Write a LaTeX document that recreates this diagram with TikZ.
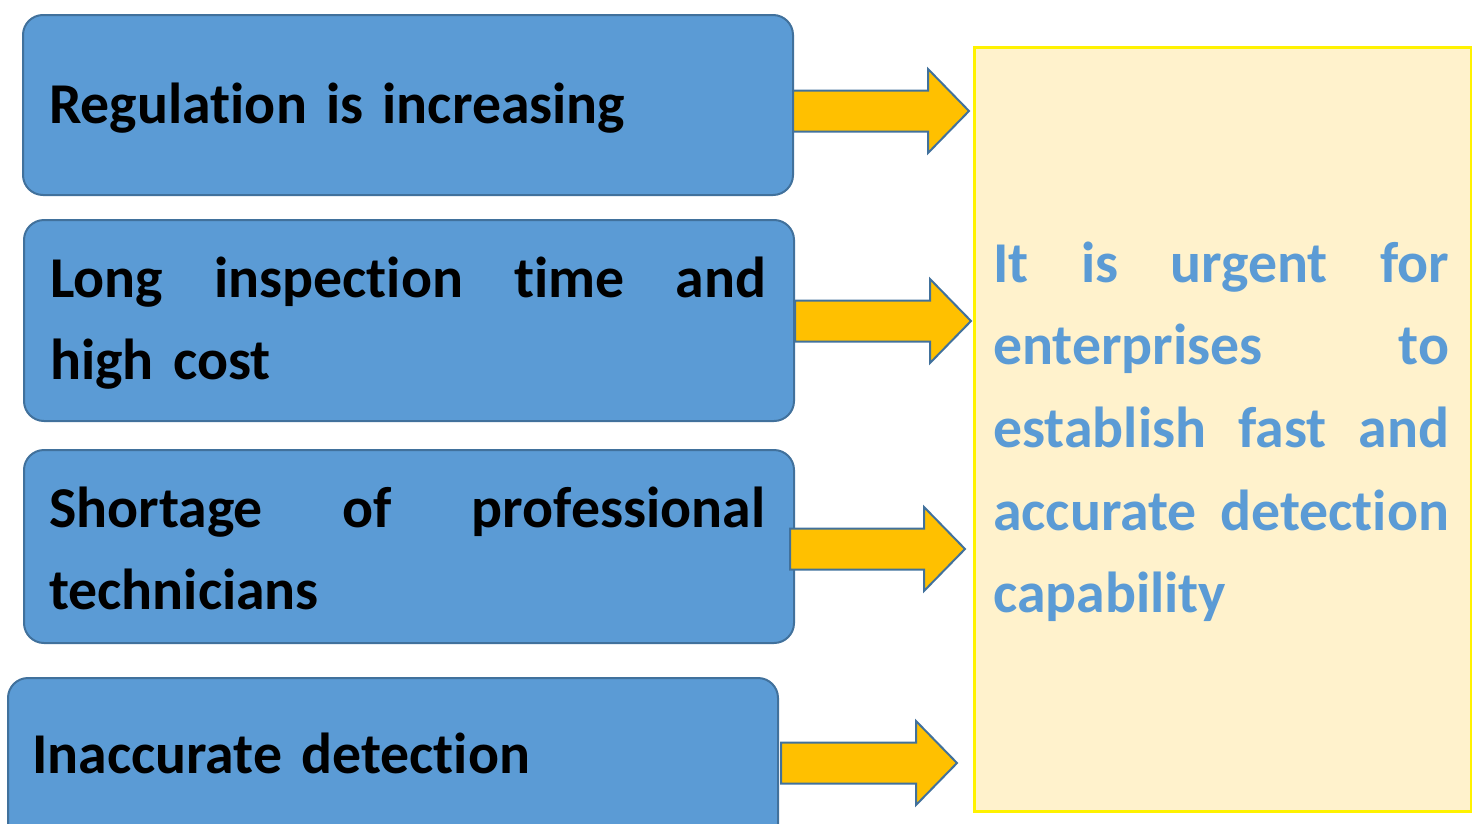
\documentclass[tikz,border=0pt]{standalone}
\usepackage{fontspec}
\setmainfont{Carlito}[Ligatures=NoCommon]
\definecolor{boxblue}{HTML}{5B9BD5}
\definecolor{boxedge}{HTML}{41719C}
\definecolor{arrowgold}{HTML}{FFC000}
\definecolor{notefill}{HTML}{FFF2CC}

\begin{document}
\begin{tikzpicture}[
    x=1bp, y=-1bp,
    cause box/.style={draw=boxedge, line width=2bp, fill=boxblue,
    rounded corners=20bp, inner sep=0pt, anchor=north west},
    cause text/.style={anchor=base west, inner sep=0pt, text width=717bp,
    align=left, font=\bfseries\fontsize{58}{83}\selectfont},
    block arrow/.style={draw=boxedge, line width=2bp, fill=arrowgold},
    result box/.style={draw=yellow, line width=3bp, fill=notefill,
    inner sep=0pt, anchor=north west},
    result text/.style={anchor=base west, inner sep=0pt, text width=457bp,
    align=left, text=boxblue, font=\bfseries\fontsize{58}{83}\selectfont}
    ]
    \clip (0,0) rectangle (1472,823);
    % Boxes
    \node[cause box, minimum width=770bp, minimum height=180bp] (regbox) at (22,14) {};
    \node[cause box, minimum width=770bp, minimum height=201bp] (costbox) at (23,219) {};
    \node[cause box, minimum width=770bp, minimum height=193bp] (staffbox) at (23,449) {};
    \node[cause box, minimum width=770bp, minimum height=180bp] (detbox) at (7,677) {};
    \node[result box, minimum width=497bp, minimum height=764bp] (urgentbox) at (973,46) {};
    % Texts
    \node[cause text] (regtext) at (49,123) {Regulation is increasing};
    \node[cause text] (costtext) at (50,297)
        {\makebox[716bp]{Long\hfill inspection\hfill time\hfill and}\\high cost};
    \node[cause text] (stafftext) at (49,527)
        {\makebox[716bp]{Shortage\hfill of\hfill professional}\\technicians};
    \node[cause text] (dettext) at (32,773) {Inaccurate detection};
    \node[result text] (urgenttext) at (993,282)
        {\makebox[456bp]{It\hfill is\hfill urgent\hfill for}\\
         \makebox[456bp]{enterprises\hfill to}\\
         \makebox[456bp]{establish\hfill fast\hfill and}\\
         \makebox[456bp]{accurate\hfill detection}\\
         capability};
    % Arrows
    \coordinate (tail1) at (793,111);
    \coordinate (tail2) at (795,321);
    \coordinate (tail3) at (790,549);
    \coordinate (tail4) at (781,763);
    \draw[block arrow] (tail1) ++(0,-20.5) -- ++(135,0) -- ++(0,-21.5) -- ++(41,42)
        -- ++(-41,42) -- ++(0,-21.5) -- ++(-135,0) -- cycle;
    \draw[block arrow] (tail2) ++(0,-20.5) -- ++(135,0) -- ++(0,-21.5) -- ++(41,42)
        -- ++(-41,42) -- ++(0,-21.5) -- ++(-135,0) -- cycle;
    \draw[block arrow] (tail3) ++(0,-20.5) -- ++(134,0) -- ++(0,-21.5) -- ++(41,42)
        -- ++(-41,42) -- ++(0,-21.5) -- ++(-134,0) -- cycle;
    \draw[block arrow] (tail4) ++(0,-20.5) -- ++(135,0) -- ++(0,-21.5) -- ++(41,42)
        -- ++(-41,42) -- ++(0,-21.5) -- ++(-135,0) -- cycle;
\end{tikzpicture}
\end{document}
